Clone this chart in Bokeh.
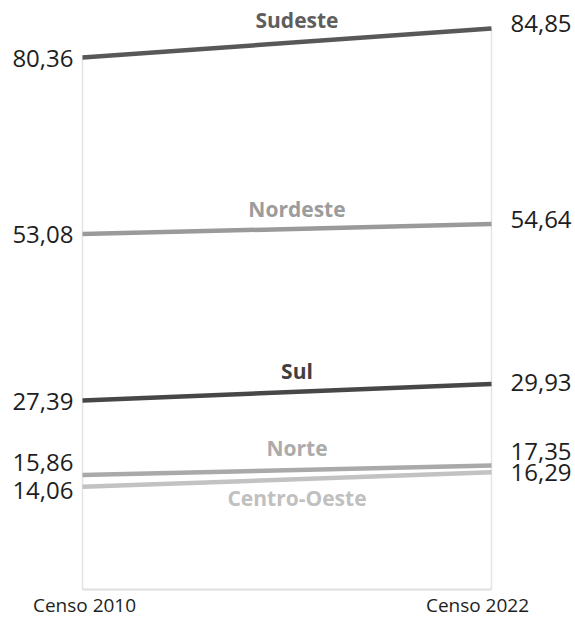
from bokeh.plotting import figure
from bokeh.models import ColumnDataSource, Range1d
from bokeh.core.properties import value
from bokeh.embed import file_html
from bokeh.resources import INLINE

# ---- data ----
regions = ["Sudeste", "Nordeste", "Sul", "Norte", "Centro-Oeste"]
v2010 = [80.36, 53.08, 27.39, 15.86, 14.06]
v2022 = [84.85, 54.64, 29.93, 17.35, 16.29]
periods = ["Censo 2010", "Censo 2022"]
fmt = lambda v: f"{v:.2f}".replace(".", ",")

# ---- styles ----
line_colors = ["#585858", "#9a9a9a", "#474747", "#a9a9a9", "#c2c2c2"]
name_colors = ["#5e5e5e", "#9c9c9c", "#404040", "#ababab", "#c0c0c0"]
name_dy = [-23, -20, -21, -22, 18]       # px nudges of region names
left_dy = [1, 0, 1, -13, 4]              # px nudges of 2010 value labels
right_dy = [-5, -5, -2, -14, 0]          # px nudges of 2022 value labels
FONT = "Open Sans"

p = figure(width=575, height=619, output_backend="svg", toolbar_location=None,
           x_range=Range1d(-0.2005, 1.2054), y_range=Range1d(-6.44, 89.16),
           min_border=0, outline_line_color=None)
p.axis.visible = False
p.grid.visible = False
p.background_fill_color = "white"

base = -1.8
# drop lines & baseline
p.segment(x0=[0, 1], y0=[base, base], x1=[0, 1], y1=[max(v2010), max(v2022)],
          line_color="#e4e4e4", line_width=1.5)
p.segment(x0=[0], y0=[base], x1=[1], y1=[base], line_color="#dedede", line_width=2)

for i, r in enumerate(regions):
    p.line([0, 1], [v2010[i], v2022[i]], line_color=line_colors[i], line_width=4.5)

src = ColumnDataSource(dict(
    reg=regions, a=v2010, b=v2022, mid=[(a + b) / 2 for a, b in zip(v2010, v2022)],
    la=[fmt(v) for v in v2010], lb=[fmt(v) for v in v2022],
    nc=name_colors, ndy=name_dy, ldy=left_dy, rdy=right_dy,
    x0=[0] * 5, x1=[1] * 5, xm=[0.5] * 5))

p.text(x="x0", y="a", text="la", source=src, text_align="right", text_baseline="middle",
       x_offset=-9, y_offset="ldy", text_font=value(FONT), text_font_size="24px",
       text_color="#1e1e1e")
p.text(x="x1", y="b", text="lb", source=src, text_align="left", text_baseline="middle",
       x_offset=19, y_offset="rdy", text_font=value(FONT), text_font_size="24px",
       text_color="#1e1e1e")
p.text(x="xm", y="mid", text="reg", source=src, text_align="center", text_baseline="middle",
       x_offset=10, y_offset="ndy", text_font=value(FONT), text_font_size="21px",
       text_font_style="bold", text_color="nc")

p.text(x=[0, 1], y=[base, base], text=periods, text_align="center", text_baseline="middle",
       x_offset=[2, -14], y_offset=16, text_font=value(FONT), text_font_size="19px",
       text_color="#1e1e1e")

open("out.html", "w").write(file_html(p, INLINE))
